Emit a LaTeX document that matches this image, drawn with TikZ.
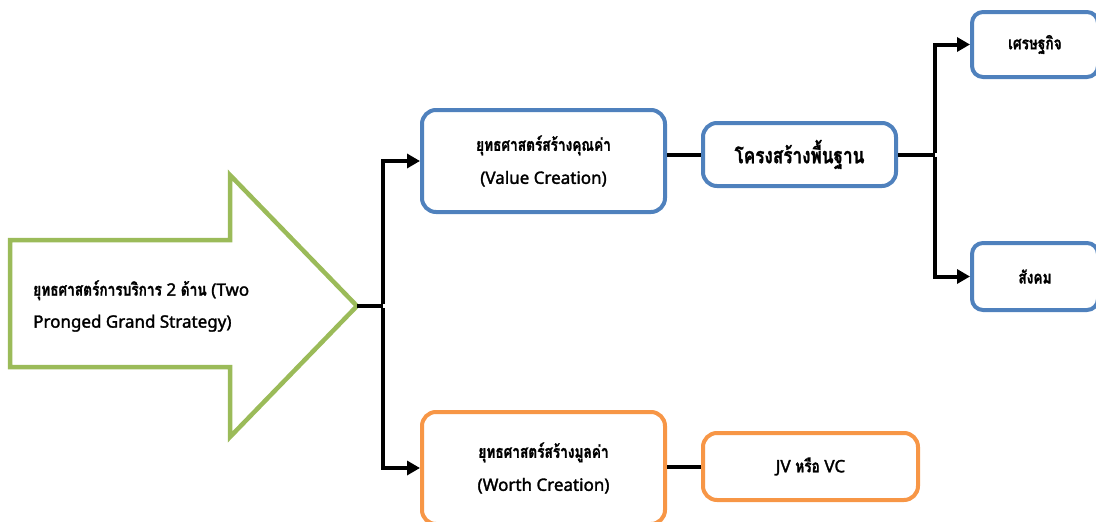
\documentclass[tikz,border=0pt]{standalone}
\usepackage{fontspec}
\newfontfamily\thaifont[Script=Thai,FakeStretch=0.78,FakeBold=1.2]{Loma}
\newfontfamily\latinfont[BoldFont={Noto Sans},BoldFeatures={FakeBold=1.8}]{Noto Sans}
\newcommand{\lt}[1]{{\latinfont\bfseries\fontsize{17}{33}\selectfont #1}}
\usetikzlibrary{arrows.meta}

\definecolor{boxblue}{HTML}{4F81BD}
\definecolor{boxorange}{HTML}{F79646}
\definecolor{arrowgreen}{HTML}{9BBB59}

\begin{document}
\begin{tikzpicture}[
    x=1pt, y=-1pt,
    box/.style={draw=boxblue,fill=white,line width=4pt,rounded corners=14pt,align=center,inner sep=4pt,
        font=\thaifont\bfseries\fontsize{17.5}{33}\selectfont},
    orangebox/.style={box,draw=boxorange},
    bigarrow/.style={draw=arrowgreen,fill=white,line width=4.5pt,line join=miter},
    line/.style={line width=4pt},
    arrow/.style={line width=4pt,-{Triangle[length=13pt,width=14pt]}}
]
\useasboundingbox (0,0) rectangle (1096,522);
\clip (0,0) rectangle (1096,522);

% big arrow on the left
\draw[bigarrow] (10,240) -- (230,240) -- (230,175) -- (357,306) -- (230,437) -- (230,367) -- (10,367) -- cycle;
\coordinate (tip) at (357,306);
\node[anchor=west,align=left,inner sep=0pt,font=\thaifont\bfseries\fontsize{17.5}{32}\selectfont] (pronged) at (33,306)
    {ยุทธศาสตร์การบริการ \lt{2} ด้าน \lt{(Two}\\\lt{Pronged Grand Strategy)}};

\node[box,minimum width=243pt,minimum height=102pt] (value) at (543.5,161) {ยุทธศาสตร์สร้างคุณค่า\\\lt{(Value Creation)}};
\node[box,minimum width=193pt,minimum height=63pt,font=\thaifont\bfseries\fontsize{22}{24}\selectfont] (infra) at (799.5,154.5) {โครงสร้างพื้นฐาน};
\node[box,minimum width=126pt,minimum height=65pt,rounded corners=11pt] (econ) at (1035,44.5) {เศรษฐกิจ};
\node[box,minimum width=126pt,minimum height=67pt,rounded corners=11pt] (social) at (1035,276.5) {สังคม};
\node[orangebox,minimum width=243pt,minimum height=112pt] (worth) at (543.5,468) {ยุทธศาสตร์สร้างมูลค่า\\\lt{(Worth Creation)}};
\node[orangebox,minimum width=215pt,minimum height=67pt] (jv) at (810.5,466.5) {\lt{JV} หรือ \lt{VC}};

\draw[line] (tip) -- (383,306) coordinate (split);
\draw[arrow] ([yshift=2pt]split) |- (value.west);
\draw[arrow] ([yshift=-2pt]split) |- (worth.west);

\draw[line] (value.east |- infra) -- (infra.west);
\draw[line] (infra.east) -- ++(37,0) coordinate (split2);
\draw[arrow] ([yshift=2pt]split2) |- (econ.west);
\draw[arrow] ([yshift=-2pt]split2) |- (social.west);

\draw[line] (worth.east |- jv) -- (jv.west);

\end{tikzpicture}
\end{document}
